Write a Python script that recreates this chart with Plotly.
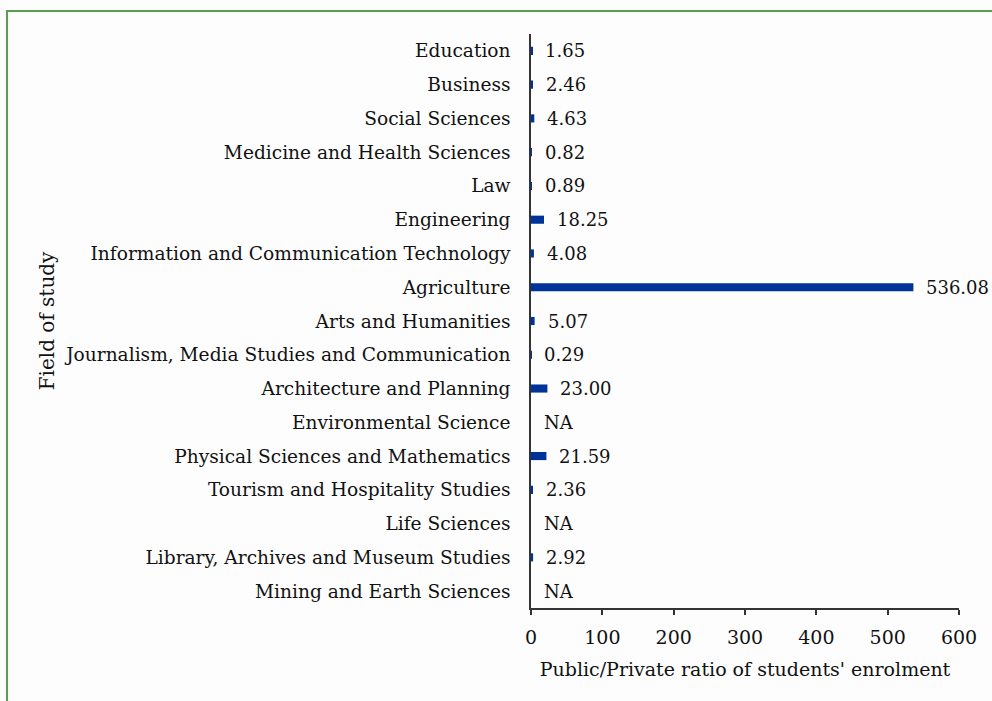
import plotly.graph_objects as go

categories = [
    "Education", "Business", "Social Sciences", "Medicine and Health Sciences", "Law",
    "Engineering", "Information and Communication Technology", "Agriculture",
    "Arts and Humanities", "Journalism, Media Studies and Communication",
    "Architecture and Planning", "Environmental Science", "Physical Sciences and Mathematics",
    "Tourism and Hospitality Studies", "Life Sciences", "Library, Archives and Museum Studies",
    "Mining and Earth Sciences",
]
values = [1.65, 2.46, 4.63, 0.82, 0.89, 18.25, 4.08, 536.08, 5.07, 0.29, 23.00, None,
          21.59, 2.36, None, 2.92, None]
labels = ["NA" if v is None else f"{v:.2f}" for v in values]

FONT = "DejaVu Serif"
W, H = 992, 701
L, R, T, B = 531, 33, 34, 93
pw, ph = W - L - R, H - T - B

fig = go.Figure()
fig.add_trace(go.Bar(
    y=categories, x=[0 if v is None else v for v in values], orientation="h",
    marker=dict(color="#00339A", line=dict(width=0)), width=0.24,
    hoverinfo="skip", showlegend=False,
))
for c, v, t in zip(categories, values, labels):
    fig.add_annotation(x=0 if v is None else v, y=c, text=t, showarrow=False,
                       xanchor="left", xshift=11, font=dict(family=FONT, size=18, color="#111"))

def px_to_x(p):
    return (p - L) / pw
def px_to_y(p):
    return (H - B - p) / ph

fig.add_shape(type="rect", xref="paper", yref="paper",
              x0=px_to_x(7), x1=px_to_x(1000), y0=px_to_y(710), y1=px_to_y(11),
              line=dict(color="#5a9e50", width=2), fillcolor="rgba(0,0,0,0)", layer="below")

fig.update_layout(
    width=W, height=H, margin=dict(l=L, r=R, t=T, b=B, pad=0),
    paper_bgcolor="#fdfdfd", plot_bgcolor="#fdfdfd",
    font=dict(family=FONT, size=19, color="#111"),
    bargap=0.76,
    xaxis=dict(range=[0, 600], dtick=100, showgrid=False, zeroline=False,
               showline=True, linecolor="#333", linewidth=1.5, ticks="outside",
               ticklen=5, tickcolor="#333", tickwidth=1.5, ticklabelstandoff=6,
               tickfont=dict(family=FONT, size=19),
               title=dict(text="Public/Private ratio of students' enrolment",
                          font=dict(family=FONT, size=19), standoff=16)),
    yaxis=dict(autorange="reversed", showgrid=False, zeroline=False,
               showline=True, linecolor="#333", linewidth=1.5, ticks="",
               ticklabelstandoff=15,
               tickfont=dict(family=FONT, size=18.6),
               title=dict(text="Field of study", font=dict(family=FONT, size=20),
                          standoff=4)),
)
fig.write_html("out.html", config={"displayModeBar": False},
               post_script="document.body.style.margin='0px';")
